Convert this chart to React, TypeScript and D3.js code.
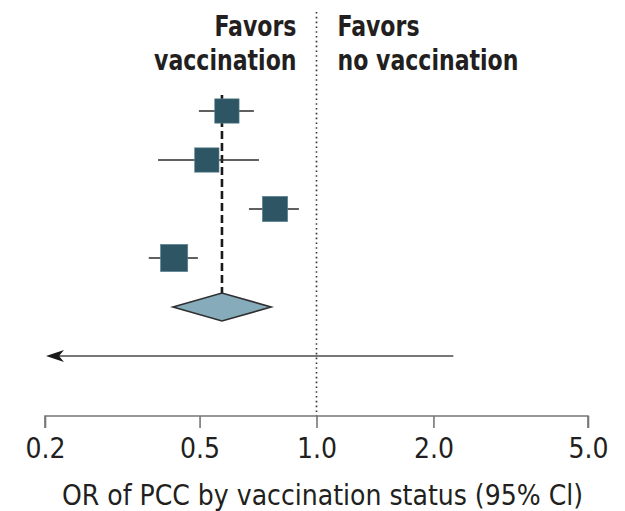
import { useEffect, useRef } from 'react';
import * as d3 from 'd3';

// study estimates (odds ratio, 95% CI)
const studyOR = [0.588, 0.522, 0.782, 0.43];
const studyLower = [0.498, 0.391, 0.67, 0.37];
const studyUpper = [0.69, 0.711, 0.901, 0.495];
const studyWeight = [23.5, 23.5, 25.5, 29.5];

// pooled estimate (diamond)
const pooledOR = 0.571;
const pooledLower = 0.427;
const pooledUpper = 0.764;

// study whose CI runs off the left edge
const arrowUpper = 2.25;

const tickValues = [0.2, 0.5, 1.0, 2.0, 5.0];
const leftHeader = ['Favors', 'vaccination'];
const rightHeader = ['Favors', 'no vaccination'];
const xTitle = 'OR of PCC by vaccination status (95% Cl)';

const FONT = '"DejaVu Sans Condensed", "DejaVu Sans", sans-serif';

export default function App() {
    const svgRef = useRef<SVGSVGElement | null>(null);

    useEffect(() => {
        const svg = d3.select(svgRef.current);
        svg.selectAll('*').remove();

        const axisY = 416;

        const x = d3.scaleLog().domain([0.2, 5]).range([45, 588]);
        const y = d3.scalePoint<number>().domain([0, 1, 2, 3, 4, 5]).range([111, 356]);
        const size = d3.scaleSqrt().domain([0, 30]).range([0, 27.5]);

        // arrow marker
        svg.append('defs')
            .append('marker')
            .attr('id', 'arrowhead')
            .attr('viewBox', '0 0 18 12')
            .attr('refX', 0)
            .attr('refY', 6)
            .attr('markerWidth', 18)
            .attr('markerHeight', 12)
            .attr('markerUnits', 'userSpaceOnUse')
            .attr('orient', 'auto')
            .append('path')
            .attr('d', 'M18,0 L0,6 L18,12 L13,6 Z')
            .attr('fill', '#1a1a1a');

        // null line at OR = 1
        svg.append('line')
            .attr('x1', x(1)).attr('x2', x(1))
            .attr('y1', 12).attr('y2', axisY)
            .attr('stroke', '#333')
            .attr('stroke-width', 1.6)
            .attr('stroke-dasharray', '1.6 3.2');

        // headers (condensed to match the narrow face of the original)
        const hdr = svg.append('g')
            .style('font-family', FONT)
            .style('font-weight', 'bold')
            .style('font-size', '29px')
            .style('fill', '#231f20');
        const squeeze = function (this: SVGTextElement) {
            const len = this.getComputedTextLength();
            d3.select(this).attr('textLength', len * 0.845).attr('lengthAdjust', 'spacingAndGlyphs');
        };
        leftHeader.forEach((t, i) => {
            hdr.append('text')
                .attr('x', x(1) - 20)
                .attr('y', 36 + i * 34)
                .attr('text-anchor', 'end')
                .text(t)
                .each(squeeze);
        });
        rightHeader.forEach((t, i) => {
            hdr.append('text')
                .attr('x', x(1) + 21)
                .attr('y', 36 + i * 34)
                .attr('text-anchor', 'start')
                .text(t)
                .each(squeeze);
        });

        const diamondHalf = 14;

        // pooled estimate dashed line
        svg.append('line')
            .attr('x1', x(pooledOR)).attr('x2', x(pooledOR))
            .attr('y1', 95).attr('y2', y(4)! - diamondHalf)
            .attr('stroke', '#1a1a1a')
            .attr('stroke-width', 2.6)
            .attr('stroke-dasharray', '8 4');

        // CI whiskers
        svg.selectAll('.ci')
            .data(studyOR)
            .enter()
            .append('line')
            .attr('class', 'ci')
            .attr('x1', (_, i) => x(studyLower[i]))
            .attr('x2', (_, i) => x(studyUpper[i]))
            .attr('y1', (_, i) => y(i)!)
            .attr('y2', (_, i) => y(i)!)
            .attr('stroke', '#2b2b2b')
            .attr('stroke-width', 1.4);

        // study squares
        svg.selectAll('.sq')
            .data(studyOR)
            .enter()
            .append('rect')
            .attr('class', 'sq')
            .attr('x', (d, i) => x(d) - size(studyWeight[i]) / 2)
            .attr('y', (_, i) => y(i)! - size(studyWeight[i]) / 2)
            .attr('width', (_, i) => size(studyWeight[i]))
            .attr('height', (_, i) => size(studyWeight[i]))
            .attr('fill', '#2d5564')
            .attr('stroke', '#5f8592')
            .attr('stroke-width', 0.6);

        // pooled diamond
        const dy = y(4)!;
        svg.append('path')
            .attr('d', `M${x(pooledLower)},${dy} L${x(pooledOR)},${dy - diamondHalf} L${x(pooledUpper)},${dy} L${x(pooledOR)},${dy + diamondHalf} Z`)
            .attr('fill', '#86abba')
            .attr('stroke', '#2f2f2f')
            .attr('stroke-width', 1.6);

        // arrow row
        svg.append('line')
            .attr('x1', x(arrowUpper)).attr('x2', x(0.2) + 12)
            .attr('y1', y(5)!).attr('y2', y(5)!)
            .attr('stroke', '#777')
            .attr('stroke-width', 1.8);
        svg.append('path')
            .attr('d', `M${x(0.2) + 1},${y(5)!} l18,-6 l-5,6 l5,6 Z`)
            .attr('fill', '#1a1a1a');

        // x axis
        const axis = svg.append('g')
            .attr('transform', `translate(0,${axisY})`)
            .call(d3.axisBottom(x).tickValues(tickValues).tickSize(12).tickPadding(10).tickFormat(d3.format('.1f')));
        axis.select('.domain')
            .attr('d', `M${x(0.2)},12V0H${x(5)}V12`)
            .attr('stroke', '#777')
            .attr('stroke-width', 1.6);
        axis.selectAll('.tick line').attr('stroke', '#777').attr('stroke-width', 1.6);
        axis.selectAll('.tick text')
            .style('font-family', FONT)
            .style('font-size', '28px')
            .attr('fill', '#231f20');

        svg.append('text')
            .attr('x', (x(0.2) + x(5)) / 2 + 6)
            .attr('y', 505)
            .attr('text-anchor', 'middle')
            .style('font-family', FONT)
            .style('font-size', '28px')
            .style('fill', '#231f20')
            .text(xTitle);
    }, []);

    return (
        <svg
            ref={svgRef}
            width={625}
            height={511}
            style={{ position: 'absolute', left: 0, top: 0, background: '#fff' }}
        />
    );
}
